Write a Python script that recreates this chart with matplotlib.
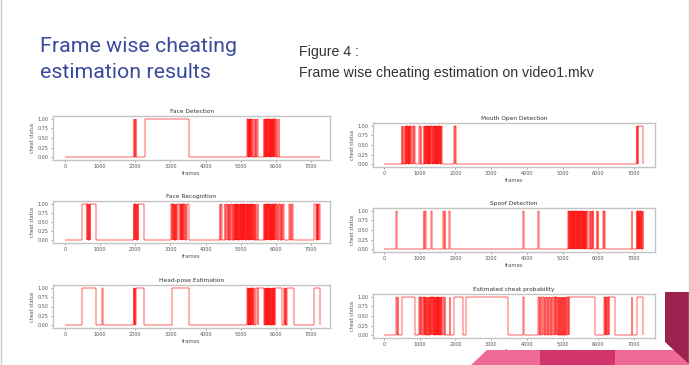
import matplotlib.pyplot as plt
from matplotlib.patches import Polygon

# frame count of video1.mkv
last_frame = 7260

# frames where the cheat status is 1, as (start, end) pairs
face_detection = [
    (1962, 1972), (1984, 1994), (2008, 2030),
    (2285, 3522),
    (5188, 5198), (5208, 5218), (5228, 5238), (5248, 5258), (5268, 5278),
    (5288, 5298), (5308, 5320), (5345, 5355), (5395, 5405), (5440, 5450),
    (5478, 5490),
    (5664, 5674), (5684, 5694), (5704, 5714), (5724, 5734), (5744, 5754),
    (5764, 5774), (5784, 5794), (5804, 5814), (5824, 5834), (5844, 5854),
    (5864, 5874), (5884, 5894), (5904, 5914), (5924, 5934), (5944, 5954),
    (5964, 5974), (5984, 5998), (6030, 6040), (6080, 6093),
]

face_recognition = [
    (476, 618), (630, 640), (652, 662), (674, 684), (696, 706), (718, 885),
    (1952, 1962), (1974, 1984), (1996, 2006), (2018, 2028), (2040, 2050),
    (2062, 2072), (2084, 2237),
    (3018, 3046), (3058, 3068), (3080, 3090), (3102, 3112), (3124, 3134),
    (3146, 3156), (3168, 3189), (3210, 3265), (3277, 3287), (3299, 3309),
    (3321, 3331), (3343, 3353), (3365, 3380), (3400, 3427), (3440, 3450),
    (3462, 3522),
    (4408, 4418), (4440, 4455),
    (4541, 4556), (4575, 4598), (4636, 4646), (4668, 4678), (4700, 4710),
    (4735, 4745), (4770, 4780),
    (4808, 4818), (4828, 4838), (4848, 4858), (4868, 4878), (4888, 4898),
    (4908, 4918), (4928, 4938), (4948, 4958), (4968, 4978), (4988, 4998),
    (5008, 5018), (5028, 5038), (5048, 5058), (5068, 5078), (5088, 5098),
    (5108, 5118), (5128, 5138), (5148, 5158), (5168, 5178), (5188, 5198),
    (5208, 5218), (5228, 5238), (5248, 5258), (5268, 5278), (5288, 5298),
    (5308, 5318), (5328, 5338), (5348, 5358), (5368, 5379),
    (5400, 5410), (5440, 5450), (5480, 5493),
    (5664, 5674), (5684, 5694), (5704, 5714), (5724, 5734), (5744, 5754),
    (5764, 5774), (5784, 5794), (5804, 5814), (5824, 5834), (5844, 5854),
    (5864, 5874), (5884, 5894), (5904, 5914), (5924, 5934), (5944, 5954),
    (5964, 5974), (5984, 5994),
    (6020, 6030), (6060, 6070), (6100, 6110), (6140, 6150), (6180, 6190),
    (6220, 6236),
    (6378, 6400), (6420, 6440), (6460, 6502),
    (7093, 7150), (7162, 7172), (7184, 7194), (7206, 7216), (7228, 7260),
]

head_pose = [
    (476, 885), (1047, 1076),
    (1952, 1962), (1972, 1982), (1992, 2002), (2012, 2237),
    (3046, 3522),
    (5188, 5198), (5208, 5218), (5228, 5238), (5248, 5258), (5268, 5278),
    (5288, 5298), (5308, 5318), (5328, 5338), (5348, 5358), (5368, 5420),
    (5432, 5485), (5497, 5670),
    (5680, 5690), (5700, 5710), (5720, 5730), (5740, 5750), (5760, 5770),
    (5780, 5790), (5800, 5810), (5820, 5830), (5840, 5850), (5860, 5870),
    (5880, 5890), (5900, 5910), (5920, 5930), (5940, 5950), (5960, 5970),
    (5980, 6190),
    (6236, 6250), (6262, 6275), (6290, 6300), (6318, 6521),
    (7093, 7260),
]

mouth_open = [
    (495, 505), (520, 541), (588, 598), (608, 618), (628, 638), (648, 658),
    (668, 678), (688, 698), (708, 718), (728, 738), (748, 775), (821, 831),
    (850, 868),
    (989, 999), (1030, 1045),
    (1120, 1130), (1140, 1150), (1160, 1170), (1180, 1190), (1200, 1210),
    (1220, 1230), (1240, 1250), (1260, 1270), (1280, 1290), (1300, 1310),
    (1320, 1335),
    (1363, 1373), (1383, 1393), (1403, 1413), (1423, 1433), (1443, 1453),
    (1463, 1473), (1483, 1493), (1503, 1513), (1523, 1533), (1543, 1553),
    (1563, 1573), (1583, 1593), (1603, 1615),
    (1969, 1979), (1995, 2007),
    (7075, 7085), (7095, 7105), (7115, 7260),
]

spoof = [
    (345, 360),
    (1120, 1130), (1150, 1176), (1316, 1330), (1661, 1675), (1695, 1708),
    (1829, 1845), (3901, 3915), (4321, 4335),
    (5161, 5171), (5181, 5191), (5201, 5211), (5221, 5231), (5241, 5251),
    (5261, 5271), (5281, 5291), (5301, 5311), (5321, 5331), (5341, 5351),
    (5361, 5371), (5381, 5391), (5401, 5411), (5421, 5431), (5441, 5451),
    (5461, 5471), (5481, 5491), (5501, 5511), (5521, 5531), (5541, 5551),
    (5561, 5571), (5581, 5591), (5601, 5611), (5621, 5631), (5641, 5651),
    (5661, 5671), (5690, 5721),
    (5768, 5778), (5795, 5805), (5830, 5840), (5850, 5861),
    (5955, 5965), (5990, 6001), (6141, 6151), (6175, 6188),
    (6935, 6950),
    (7075, 7085), (7095, 7105), (7115, 7125), (7135, 7145), (7155, 7165),
    (7175, 7185), (7195, 7205), (7215, 7225), (7240, 7250),
]

estimated = [
    (336, 350), (380, 401),
    (495, 868),
    (989, 999), (1015, 1025), (1040, 1055),
    (1101, 1111), (1125, 1135), (1150, 1160), (1175, 1185), (1200, 1210),
    (1225, 1235), (1250, 1260), (1275, 1285), (1300, 1310), (1325, 1335),
    (1350, 1360),
    (1381, 1391), (1401, 1411), (1421, 1431), (1441, 1451), (1461, 1471),
    (1481, 1491), (1501, 1511), (1521, 1531), (1541, 1551), (1561, 1571),
    (1581, 1591), (1601, 1615),
    (1661, 1675), (1700, 1715), (1840, 1855),
    (1969, 2221), (2296, 3481),
    (3901, 3915),
    (4321, 4335), (4360, 4375), (4400, 4420), (4460, 4475), (4500, 4520),
    (4550, 4560), (4580, 4600), (4620, 4640), (4670, 4690), (4710, 4730),
    (4760, 4775),
    (4800, 4810), (4830, 4840), (4860, 4870), (4890, 4900), (4920, 4930),
    (4950, 4960), (4980, 4990), (5010, 5020), (5040, 5050), (5070, 5080),
    (5100, 5110), (5130, 5140), (5160, 5170), (5190, 5908),
    (6170, 6180), (6195, 6205), (6220, 6230), (6250, 6260), (6280, 6290),
    (6310, 6468),
    (6935, 6950),
    (7075, 7260),
]

titles = ['Face Detection', 'Face Recognition', 'Head-pose Estimation',
          'Mouth Open Detection', 'Spoof Detection', 'Estimated cheat probability']
series = [face_detection, face_recognition, head_pose, mouth_open, spoof, estimated]
yticks = [0.0, 0.25, 0.5, 0.75, 1.0]
xticks = [0, 1000, 2000, 3000, 4000, 5000, 6000, 7000]

W, H = 690, 365
# axes boxes in pixels: left, top, right, bottom
boxes = [(53, 116, 330, 160), (53, 201, 330, 243), (53, 285, 330, 328),
         (373, 123, 655, 167), (373, 208, 655, 252), (373, 294, 655, 338)]
xlims = [(-345, 7545), (-345, 7545), (-345, 7545),
         (-310, 7590), (-310, 7590), (-310, 7590)]

fig = plt.figure(figsize=(W / 100, H / 100), dpi=100)


def px(x, y):
    return x / W, 1 - y / H


# slide decoration in the lower right corner
fig.patches.append(Polygon([px(470, 366), px(487, 350), px(690, 350), px(690, 366)],
                           closed=True, transform=fig.transFigure,
                           facecolor='#ef6a97', edgecolor='none'))
fig.patches.append(Polygon([px(540, 350), px(615, 350), px(615, 366), px(540, 366)],
                           closed=True, transform=fig.transFigure,
                           facecolor='#d2356c', edgecolor='none'))
fig.patches.append(Polygon([px(665, 292), px(689, 292), px(689, 364), px(665, 342)],
                           closed=True, transform=fig.transFigure,
                           facecolor='#9c2250', edgecolor='none'))
fig.add_artist(plt.Line2D([0.5 / W, 0.5 / W], [0, 1], transform=fig.transFigure,
                          color='#cfcfcf', lw=1))
fig.add_artist(plt.Line2D([1 - 1.5 / W, 1 - 1.5 / W], [0, 1], transform=fig.transFigure,
                          color='#cfcfcf', lw=1))

fig.text(40 / W, 1 - 47 / H, 'Frame wise cheating', family='Roboto', fontsize=15.4,
         color='#3b4a9f', va='center')
fig.text(40 / W, 1 - 73 / H, 'estimation results', family='Roboto', fontsize=15.4,
         color='#3b4a9f', va='center')
fig.text(299 / W, 1 - 52 / H, 'Figure 4 :', family='Liberation Sans', fontsize=10.2,
         color='#333333', va='center')
fig.text(299 / W, 1 - 73 / H, 'Frame wise cheating estimation on video1.mkv',
         family='Liberation Sans', fontsize=10.2, color='#333333', va='center')

for title, on, box, xl in zip(titles, series, boxes, xlims):
    l, t, r, b = box
    ax = fig.add_axes([l / W, 1 - b / H, (r - l) / W, (b - t) / H])
    starts = [s for s, e in on]
    ends = [e for s, e in on]
    low_from = [0] + ends
    low_to = starts + [last_frame]
    style = dict(color='red', alpha=0.3, lw=1.5)
    ax.hlines([1] * len(on), starts, ends, **style)
    ax.hlines([0] * len(low_from), low_from, low_to, **style)
    ax.vlines(starts + ends, 0, 1, **style)
    ax.set_xlim(*xl)
    ax.set_ylim(-0.07, 1.07)
    ax.set_xticks(xticks)
    ax.set_yticks(yticks)
    ax.set_yticklabels(['%.2f' % v for v in yticks])
    ax.tick_params(labelsize=3.5, length=1.5, width=0.5, pad=1.5,
                   colors='#777777', labelcolor='#555555')
    for sp in ax.spines.values():
        sp.set_color('#c4c4c4')
        sp.set_linewidth(1.0)
    ax.set_title(title, fontsize=4.2, pad=2, color='#333333')
    ax.set_xlabel('frames', fontsize=3.8, labelpad=1, color='#555555')
    ax.set_ylabel('cheat status', fontsize=3.5, labelpad=2, color='#555555')

fig.savefig('out.png', dpi=100)
